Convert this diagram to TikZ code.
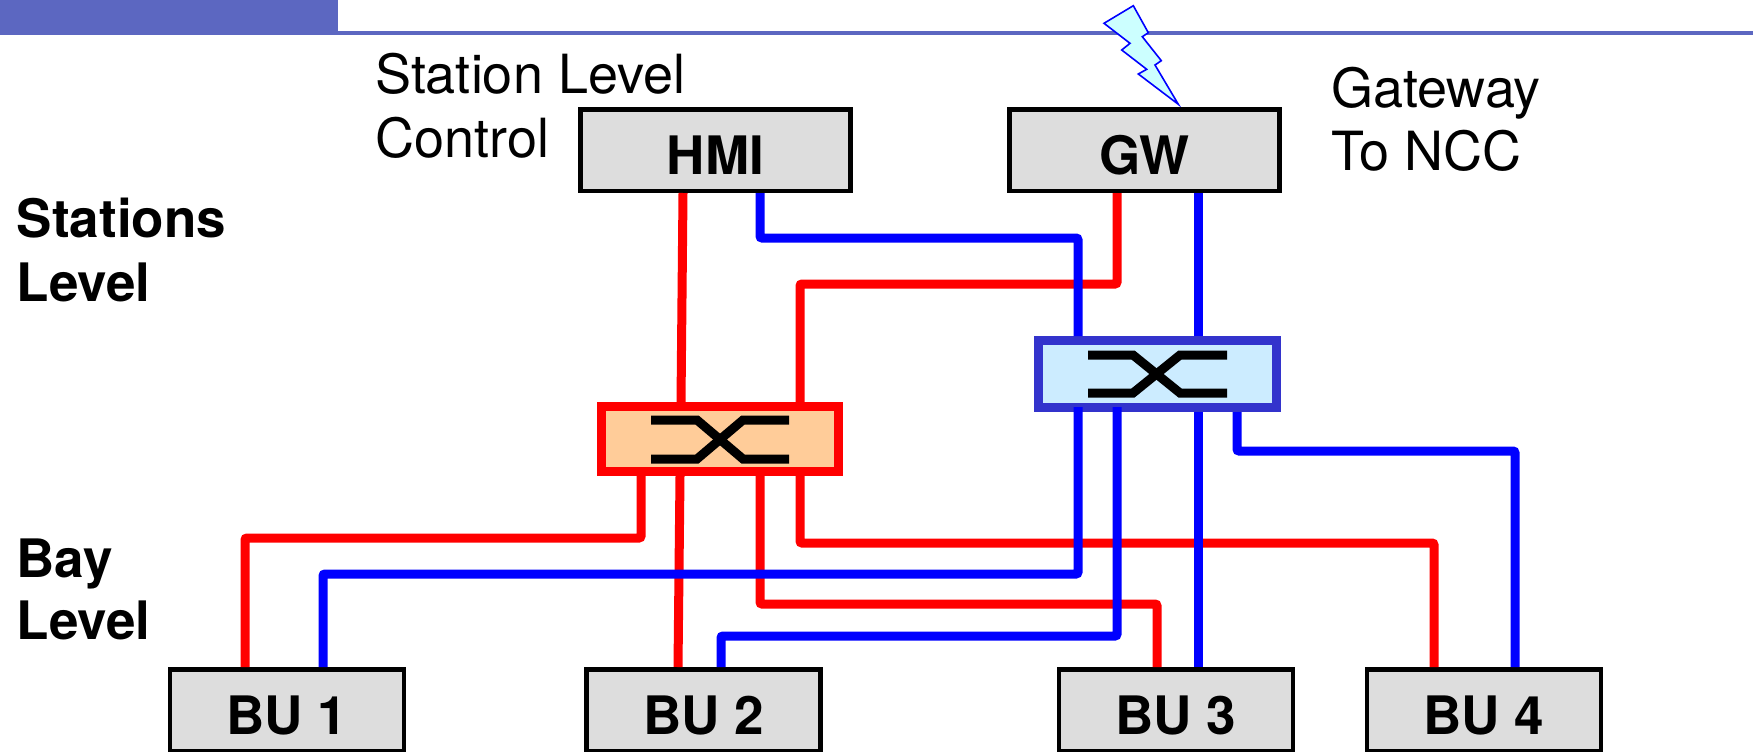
\documentclass[tikz,border=0pt]{standalone}
\usepackage{fontspec}
\setmainfont{TeX Gyre Heros}
\definecolor{hdr}{HTML}{5C67C1}
\definecolor{boxgray}{HTML}{DDDDDD}
\definecolor{swred}{HTML}{FFCC99}
\definecolor{swblue}{HTML}{CCECFF}
\definecolor{swedge}{HTML}{3333CC}
\definecolor{bolt}{HTML}{CCFFFF}
\tikzset{
  unitbox/.style={draw=black,fill=boxgray,line width=4.5pt,inner sep=0pt,text height=48pt,text depth=0pt,font=\fontsize{53}{53}\selectfont\bfseries},
  redsw/.style={draw=red,fill=swred,line width=9pt,inner sep=0pt},
  bluesw/.style={draw=swedge,fill=swblue,line width=9pt,inner sep=0pt},
  redline/.style={draw=red,line width=9pt,rounded corners=2pt},
  blueline/.style={draw=blue,line width=9pt,rounded corners=2pt},
  xsym/.style={draw=black,line width=9pt},
  plain/.style={anchor=base west,inner sep=0pt,font=\fontsize{54}{54}\selectfont},
  strong/.style={anchor=base west,inner sep=0pt,font=\fontsize{53}{53}\selectfont\bfseries},
}
\begin{document}
\begin{tikzpicture}[x=1pt,y=-1pt]
\useasboundingbox (0,0) rectangle (1753,752);
% header
\fill[hdr] (0,0) rectangle (338,35);
\fill[hdr] (338,31) rectangle (1753,35);
% boxes
\node[unitbox,minimum width=270pt,minimum height=81.5pt] (hmi) at (715.5,150) {HMI};
\node[unitbox,minimum width=270pt,minimum height=81.5pt] (gw) at (1144.5,150) {GW};
\node[unitbox,minimum width=234pt,minimum height=81.5pt] (bu1) at (287,710) {BU 1};
\node[unitbox,minimum width=234pt,minimum height=81.5pt] (bu2) at (703.5,710) {BU 2};
\node[unitbox,minimum width=234pt,minimum height=81.5pt] (bu3) at (1176,710) {BU 3};
\node[unitbox,minimum width=234pt,minimum height=81.5pt] (bu4) at (1484,710) {BU 4};
% switches
\node[redsw,minimum width=237pt,minimum height=65pt] (swa) at (720,439) {};
\node[bluesw,minimum width=238pt,minimum height=67pt] (swb) at (1157.5,374) {};
% red links
\draw[redline] (683,0 |- hmi.south) -- (681,0 |- swa.north);
\draw[redline] (1117,0 |- gw.south) -- (1117,284) -- (800,284) -- (800,0 |- swa.north);
\draw[redline] (641,0 |- swa.south) -- (641,538) -- (245,538) -- (245,0 |- bu1.north);
\draw[redline] (680,0 |- swa.south) -- (678,0 |- bu2.north);
\draw[redline] (760,0 |- swa.south) -- (760,604) -- (1157,604) -- (1157,0 |- bu3.north);
\draw[redline] (800,0 |- swa.south) -- (800,543) -- (1434,543) -- (1434,0 |- bu4.north);
% blue links
\draw[blueline] (760,0 |- hmi.south) -- (760,238) -- (1078,238) -- (1078,0 |- swb.north);
\draw[blueline] (1198,0 |- gw.south) -- (1198,0 |- swb.north);
\draw[blueline] (1078,407) -- (1078,574) -- (323,574) -- (323,0 |- bu1.north);
\draw[blueline] (1117,407) -- (1117,636) -- (721,636) -- (721,0 |- bu2.north);
\draw[blueline] (1198,0 |- swb.south) -- (1198,0 |- bu3.north);
\draw[blueline] (1237,0 |- swb.south) -- (1237,451) -- (1515,451) -- (1515,0 |- bu4.north);
% switch symbols
\draw[xsym] (651,420) -- (697,420) -- (743,459) -- (789,459);
\draw[xsym] (651,459) -- (697,459) -- (743,420) -- (789,420);
\draw[xsym] (1088,355) -- (1133,355) -- (1180,393) -- (1227,393);
\draw[xsym] (1088,393) -- (1133,393) -- (1180,355) -- (1227,355);
% lightning
\draw[draw=blue,fill=bolt,line width=1.6pt,line join=miter]
  (1133.3,5.7) -- (1104,23.3) -- (1130,43.3) -- (1121.7,50) -- (1146.7,69.3) -- (1138.3,74) -- (1178.3,104.3)
  -- (1155,65) -- (1161.3,60.7) -- (1142.3,36.7) -- (1148.3,32.7) -- cycle;
% labels
\node[plain] (t1) at (375,93) {Station Level};
\node[plain] (t2) at (375,157) {Control};
\node[plain] (t3) at (1331,107) {Gateway};
\node[plain] (t4) at (1331,170) {To NCC};
\node[strong] (t5) at (16.5,237) {Stations};
\node[strong] (t6) at (16.5,301) {Level};
\node[strong] (t7) at (16.5,577) {Bay};
\node[strong] (t8) at (16.5,639) {Level};
\end{tikzpicture}
\end{document}
